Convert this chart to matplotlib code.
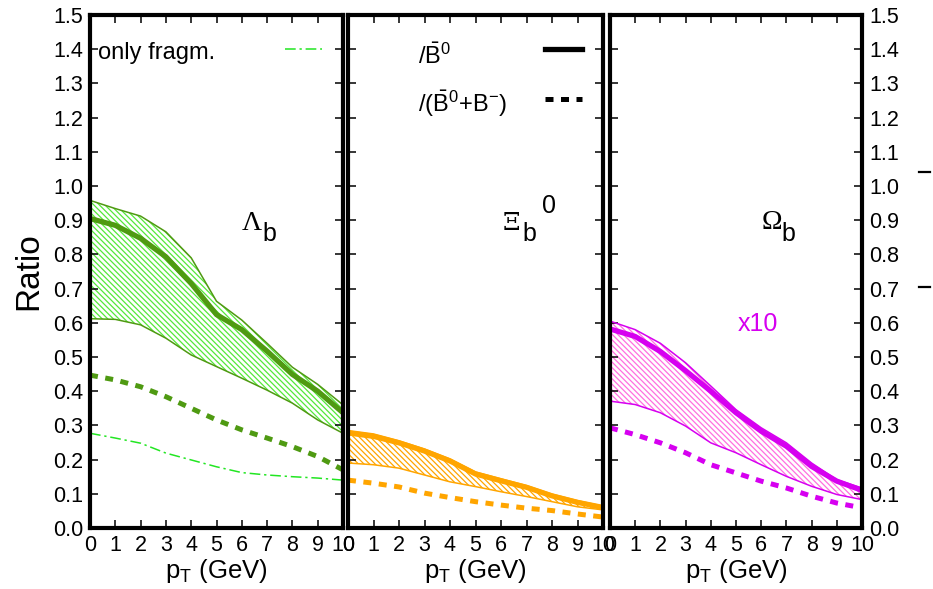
import numpy as np
import matplotlib.pyplot as plt
from matplotlib.lines import Line2D

plt.rcParams['font.family'] = ['Liberation Sans', 'DejaVu Sans']
plt.rcParams['mathtext.fontset'] = 'custom'
plt.rcParams['mathtext.rm'] = 'Liberation Sans'
plt.rcParams['mathtext.it'] = 'Liberation Sans:italic'
plt.rcParams['hatch.linewidth'] = 0.9

# pT grid (GeV)
pt = np.arange(0, 11)

# Lambda_b
lam_mid = [0.905, 0.885, 0.847, 0.793, 0.715, 0.624, 0.580, 0.517, 0.449, 0.400, 0.337]
lam_hi = [0.958, 0.934, 0.912, 0.866, 0.790, 0.663, 0.608, 0.540, 0.470, 0.420, 0.360]
lam_lo = [0.612, 0.610, 0.594, 0.555, 0.506, 0.472, 0.438, 0.403, 0.365, 0.316, 0.277]
lam_sum = [0.447, 0.433, 0.413, 0.384, 0.350, 0.316, 0.287, 0.263, 0.238, 0.209, 0.170]
lam_frag = [0.277, 0.263, 0.248, 0.219, 0.199, 0.179, 0.162, 0.155, 0.150, 0.146, 0.140]

# Xi_b^0
xi_mid = [0.278, 0.268, 0.249, 0.225, 0.196, 0.158, 0.138, 0.119, 0.094, 0.075, 0.060]
xi_hi = [0.285, 0.275, 0.255, 0.231, 0.202, 0.164, 0.144, 0.124, 0.099, 0.080, 0.064]
xi_lo = [0.190, 0.185, 0.175, 0.155, 0.135, 0.121, 0.106, 0.092, 0.077, 0.062, 0.053]
xi_sum = [0.140, 0.131, 0.120, 0.102, 0.089, 0.077, 0.067, 0.058, 0.051, 0.041, 0.032]

# Omega_b (x10)
om_mid = [0.582, 0.560, 0.516, 0.460, 0.400, 0.337, 0.283, 0.239, 0.180, 0.137, 0.110]
om_hi = [0.605, 0.580, 0.540, 0.483, 0.415, 0.346, 0.293, 0.249, 0.190, 0.141, 0.117]
om_lo = [0.371, 0.361, 0.337, 0.298, 0.249, 0.220, 0.185, 0.151, 0.122, 0.098, 0.083]
om_sum = [0.293, 0.273, 0.249, 0.220, 0.185, 0.161, 0.137, 0.117, 0.093, 0.073, 0.059]

W, H = 933, 589
fig = plt.figure(figsize=(W / 100, H / 100), dpi=100)

def box(x0, x1, y0=15, y1=528):
    return [x0 / W, 1 - y1 / H, (x1 - x0) / W, (y1 - y0) / H]

ax1 = fig.add_axes(box(90, 343))
ax2 = fig.add_axes(box(348, 603))
ax3 = fig.add_axes(box(610, 862))

panels = [
    (ax1, lam_mid, lam_hi, lam_lo, lam_sum, '#4f9a12', '#55e83a'),
    (ax2, xi_mid, xi_hi, xi_lo, xi_sum, '#ffa500', '#ffa500'),
    (ax3, om_mid, om_hi, om_lo, om_sum, '#d600f0', '#ff70e0'),
]

for ax, mid, hi, lo, summ, col, hcol in panels:
    ax.fill_between(pt, lo, hi, facecolor='none', edgecolor=hcol,
                    hatch='\\' * 6, linewidth=0)
    ax.plot(pt, hi, color=col, lw=1.1)
    ax.plot(pt, lo, color=col, lw=1.1)
    ax.plot(pt, mid, color=col, lw=3.8, solid_capstyle='butt')
    ax.plot(pt, summ, color=col, lw=3.6, dashes=(1.6, 1.5))
    ax.set_xlim(0, 10)
    ax.set_ylim(0, 1.5)
    ax.set_xticks(np.arange(0, 11))
    ax.set_yticks(np.arange(0, 1.51, 0.1))
    ax.set_yticklabels([f'{v:.1f}' for v in np.arange(0, 1.51, 0.1)])
    ax.tick_params(direction='in', length=6, width=1.1, top=True, right=True,
                   labelsize=15.5, pad=5, colors='black')
    for s in ax.spines.values():
        s.set_linewidth(3.0)
    ax.set_xlabel(r'p$_\mathrm{T}$ (GeV)', fontsize=18.5, labelpad=1)

ax1.plot(pt, lam_frag, color='#22e622', lw=1.1, dashes=(7, 2.5, 1.5, 2.5))

ax2.tick_params(labelleft=False)
ax3.tick_params(labelleft=False, labelright=True)
ax1.set_ylabel('Ratio', fontsize=24, labelpad=6)

# legend entries
ax1.text(0.3, 1.39, 'only fragm.', fontsize=17, va='center', ha='left')
ax1.add_line(Line2D([7.7, 9.17], [1.401, 1.401], color='#22e622', lw=1.1,
                    dashes=(7, 2.5, 1.5, 2.5)))
ax2.text(2.75, 1.38, r'/$\bar{\mathrm{B}}^{0}$', fontsize=17, va='center', ha='left')
ax2.text(2.75, 1.24, r'/($\bar{\mathrm{B}}^{0}$+B$^{-}$)', fontsize=17,
         va='center', ha='left')
ax2.add_line(Line2D([7.73, 9.18], [1.401, 1.401], color='black', lw=3.8))
ax2.add_line(Line2D([7.73, 9.18], [1.254, 1.254], color='black', lw=3.6,
                    dashes=(1.6, 1.5)))

# particle labels
ax1.text(6.0, 0.87, 'Λ', family='Liberation Serif', fontsize=20, ha='left', va='baseline')
ax1.text(6.8, 0.84, 'b', fontsize=18, ha='left', va='baseline')
ax2.text(6.05, 0.87, 'Ξ', family='DejaVu Serif', fontsize=18, ha='left', va='baseline')
ax2.text(6.85, 0.84, 'b', fontsize=18, ha='left', va='baseline')
ax2.text(7.6, 0.92, '0', fontsize=18, ha='left', va='baseline')
ax3.text(6.0, 0.875, 'Ω', family='Liberation Serif', fontsize=20, ha='left', va='baseline')
ax3.text(6.8, 0.84, 'b', fontsize=18, ha='left', va='baseline')
ax3.text(5.05, 0.575, 'x10', fontsize=18, color='#d600f0', ha='left', va='baseline')

# stray marks at far right
for yy in (172, 287):
    fig.add_artist(Line2D([919 / W, 930 / W], [1 - yy / H, 1 - yy / H],
                          color='black', lw=1.6))

fig.savefig('out.png', dpi=100)
